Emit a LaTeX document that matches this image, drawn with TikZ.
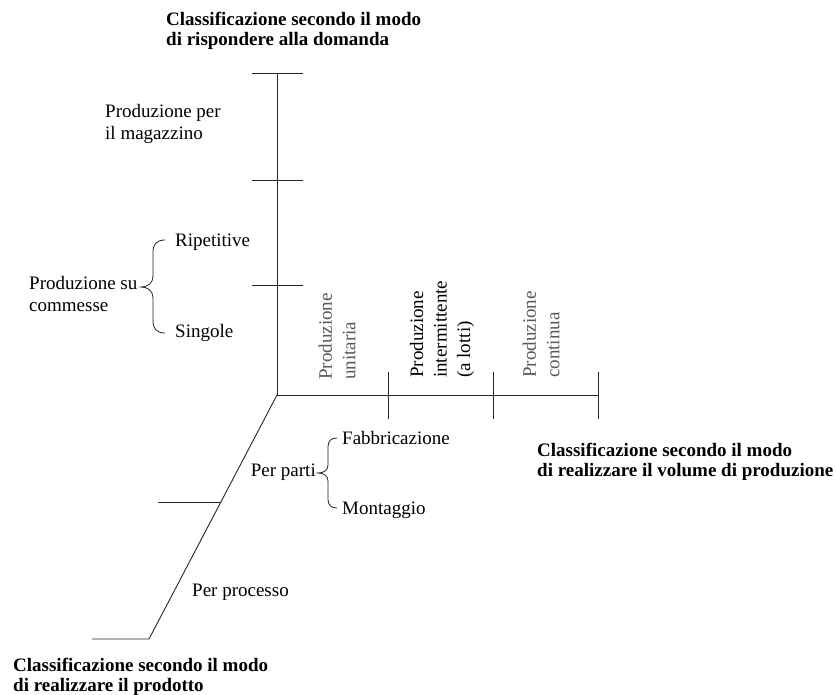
\documentclass[tikz,border=0pt]{standalone}
\usepackage{fontspec}
\setmainfont{Liberation Serif}
\usetikzlibrary{calc}
\begin{document}
\begin{tikzpicture}[x=1pt,y=-1pt,
  axis/.style={line width=0.9pt, black!85},
  brc/.style={line width=0.8pt, black!85},
  lbl/.style={inner sep=0pt, align=left, font=\fontsize{19}{22}\selectfont},
  ttl/.style={inner sep=0pt, align=left, font=\fontsize{19}{19.5}\selectfont\bfseries},
  vlbl/.style={inner sep=0pt, align=left, rotate=90, anchor=west, font=\fontsize{19}{23.5}\selectfont}]
\useasboundingbox (0,0) rectangle (836,695);

% axis end points
\coordinate (O) at (277,395);
\coordinate (Vtop) at (277,73);
\coordinate (Hend) at (598,395);
\coordinate (Dend) at (149,639);
\coordinate (Dfoot) at (92,639);

% tick positions
\coordinate (V1) at (277,73);
\coordinate (V2) at (277,180);
\coordinate (V3) at (277,285);
\coordinate (H1) at (388,395);
\coordinate (H2) at (493,395);
\coordinate (H3) at (598,395);
\coordinate (D1) at ($(O)!0.4385!(Dend)$);

% axes
\draw[axis] (Vtop) -- (O) -- (Hend);
\draw[axis] (O) -- (Dend) -- (Dfoot);

% ticks
\foreach \p in {V1,V2,V3}
  \draw[axis] ([xshift=-25pt]\p) -- ([xshift=26pt]\p);
\foreach \p in {H1,H2,H3}
  \draw[axis] ([yshift=23pt]\p) -- ([yshift=-24pt]\p);
\draw[axis] (D1) -- ++(-63,0);

% braces
\draw[brc] (165,240) .. controls (157,240) and (153,244) .. (153,252) -- (153,276)
  .. controls (153,283) and (148,287) .. (141,287)
  .. controls (148,287) and (153,291) .. (153,298) -- (153,321)
  .. controls (153,329) and (157,333) .. (165,333);
\draw[brc] (337,438) .. controls (331,438) and (328,441) .. (328,447) -- (328,465)
  .. controls (328,470) and (324,473) .. (318,473)
  .. controls (324,473) and (328,476) .. (328,481) -- (328,499)
  .. controls (328,505) and (331,508) .. (337,508);

% vertical axis: response to demand
\node[ttl, anchor=west] (tq) at (166,31) {Classificazione secondo il modo\\di rispondere alla domanda};
\node[lbl, anchor=west] (mag) at (105,124) {Produzione per\\il magazzino};
\node[lbl, anchor=west] (rip) at (175,242) {Ripetitive};
\node[lbl, anchor=west] (comm) at (29,294) {Produzione su\\commesse};
\node[lbl, anchor=west] (sing) at (175,333) {Singole};

% horizontal axis: production volume
\node[vlbl, text=black!65] (unit) at (337,380) {Produzione\\unitaria};
\node[vlbl] (inter) at (442,378) {Produzione\\intermittente\\(a lotti)};
\node[vlbl, text=black!65] (cont) at (541,378) {Produzione\\continua};
\node[ttl, anchor=west] (tv) at (537,462) {Classificazione secondo il modo\\di realizzare il volume di produzione};

% diagonal axis: how the product is made
\node[lbl, anchor=east] (parti) at (316,472) {Per parti};
\node[lbl, anchor=west] (fab) at (342,438) {Fabbricazione};
\node[lbl, anchor=west] (mont) at (342,510) {Montaggio};
\node[lbl, anchor=west] (proc) at (192,592) {Per processo};
\node[ttl, anchor=west] (tp) at (13,677) {Classificazione secondo il modo\\di realizzare il prodotto};
\end{tikzpicture}
\end{document}
